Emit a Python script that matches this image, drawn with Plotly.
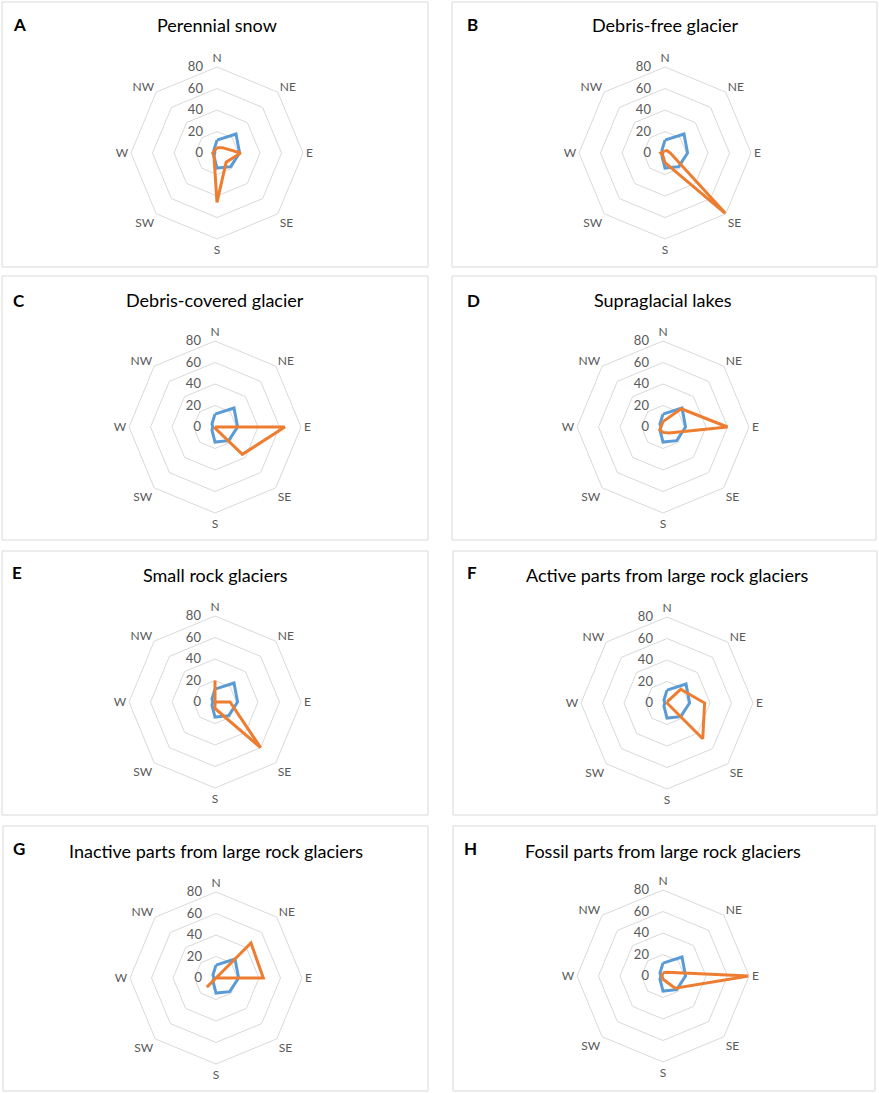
import plotly.graph_objects as go

W, H = 879, 1093

directions = ["N", "NE", "E", "SE", "S", "SW", "W", "NW"]
radial_ticks = [0, 20, 40, 60, 80]

# blue series: overall aspect distribution (same in every panel)
overall = [12, 25, 21, 18, 14, 4, 2, 4]

# orange series, one per panel
perennial_snow = [5, 7, 22, 12, 46, 4, 4, 3]
debris_free = [2, 3, 5, 80, 9, 3, 4, 2]
debris_covered = [0, 0, 65, 36, 1, 0, 0, 0]
supraglacial_lakes = [5, 24, 60, 8, 5, 4, 2, 2]
small_rock = [20, 0, 14, 60, 6, 0, 0, 0]
active_large = [1, 18, 35, 47, 0, 0, 0, 0]
inactive_large = [0, 46, 44, 0, 0, 12, 0, 0]
fossil_large = [3, 5, 80, 16, 3, 1, 1, 1]

letters = ["A", "B", "C", "D", "E", "F", "G", "H"]
titles = ["Perennial snow", "Debris-free glacier", "Debris-covered glacier",
          "Supraglacial lakes", "Small rock glaciers",
          "Active parts from large rock glaciers",
          "Inactive parts from large rock glaciers",
          "Fossil parts from large rock glaciers"]
series = [perennial_snow, debris_free, debris_covered, supraglacial_lakes,
          small_rock, active_large, inactive_large, fossil_large]

# layout geometry (pixels)
centers = [(217, 153), (665, 153), (215, 427), (663, 427),
           (215, 702), (667, 703), (216, 978), (663, 976)]
R = 86
title_y = [25, 25, 300, 300, 575, 575, 851, 851]
letter_x = [19, 472, 19, 473, 17, 472, 19, 470]
letter_y = [25, 25, 300, 300, 572, 572, 848, 848]
frames = [(2, 2, 428, 267), (452, 2, 877, 267), (2, 276, 428, 540), (452, 276, 876, 540),
          (2, 551, 428, 815), (453, 551, 877, 815), (3, 826, 428, 1091), (453, 826, 875, 1091)]

BLUE = "#5B9BD5"
ORANGE = "#ED7D31"
GRID = "#D9D9D9"
TXT = "#595959"
FONT = "Lato"

fig = go.Figure()
layout = dict(width=W, height=H, margin=dict(l=0, r=0, t=0, b=0),
              paper_bgcolor="white", showlegend=False,
              font=dict(family=FONT, color=TXT, size=12))
annotations = []
shapes = []

def px(x):
    return x / W

def py(y):
    return 1 - y / H

for i in range(8):
    name = "polar" if i == 0 else f"polar{i+1}"
    cx, cy = centers[i]
    theta = directions + [directions[0]]
    fig.add_trace(go.Scatterpolar(r=overall + [overall[0]], theta=theta, mode="lines",
                                  line=dict(color=BLUE, width=3), subplot=name,
                                  cliponaxis=False, hoverinfo="skip"))
    vals = series[i]
    fig.add_trace(go.Scatterpolar(r=vals + [vals[0]], theta=theta, mode="lines",
                                  line=dict(color=ORANGE, width=3), subplot=name,
                                  cliponaxis=False, hoverinfo="skip"))
    layout[name] = dict(
        domain=dict(x=[px(cx - R), px(cx + R)], y=[py(cy + R), py(cy - R)]),
        bgcolor="white",
        gridshape="linear",
        radialaxis=dict(range=[0, 80], tickvals=radial_ticks, showline=False,
                        gridcolor=GRID, gridwidth=1, ticks="outside", ticklen=9,
                        tickcolor="rgba(0,0,0,0)", angle=90,
                        tickangle=90, side="counterclockwise",
                        tickfont=dict(family=FONT, size=13, color=TXT)),
        angularaxis=dict(type="category", categoryarray=directions, direction="clockwise",
                         rotation=90, showgrid=False, showline=True, linecolor=GRID,
                         linewidth=1, ticks="",
                         tickfont=dict(family=FONT, size=12, color=TXT)),
    )
    x0, y0, x1, y1 = frames[i]
    shapes.append(dict(type="rect", xref="paper", yref="paper",
                       x0=px(x0), x1=px(x1), y0=py(y1), y1=py(y0),
                       line=dict(color=GRID, width=1), layer="below"))
    annotations.append(dict(text=titles[i], x=px(cx), y=py(title_y[i]), xref="paper",
                            yref="paper", showarrow=False, xanchor="center", yanchor="middle",
                            font=dict(family=FONT, size=18, color="black")))
    annotations.append(dict(text="<b>" + letters[i] + "</b>", x=px(letter_x[i]),
                            y=py(letter_y[i]), xref="paper", yref="paper", showarrow=False,
                            xanchor="center", yanchor="middle",
                            font=dict(family=FONT, size=17, color="black")))

layout["annotations"] = annotations
layout["shapes"] = shapes
fig.update_layout(**layout)
fig.write_html("out.html", config={"displayModeBar": False},
               post_script="document.body.style.margin='0';document.body.style.overflow='hidden';")
